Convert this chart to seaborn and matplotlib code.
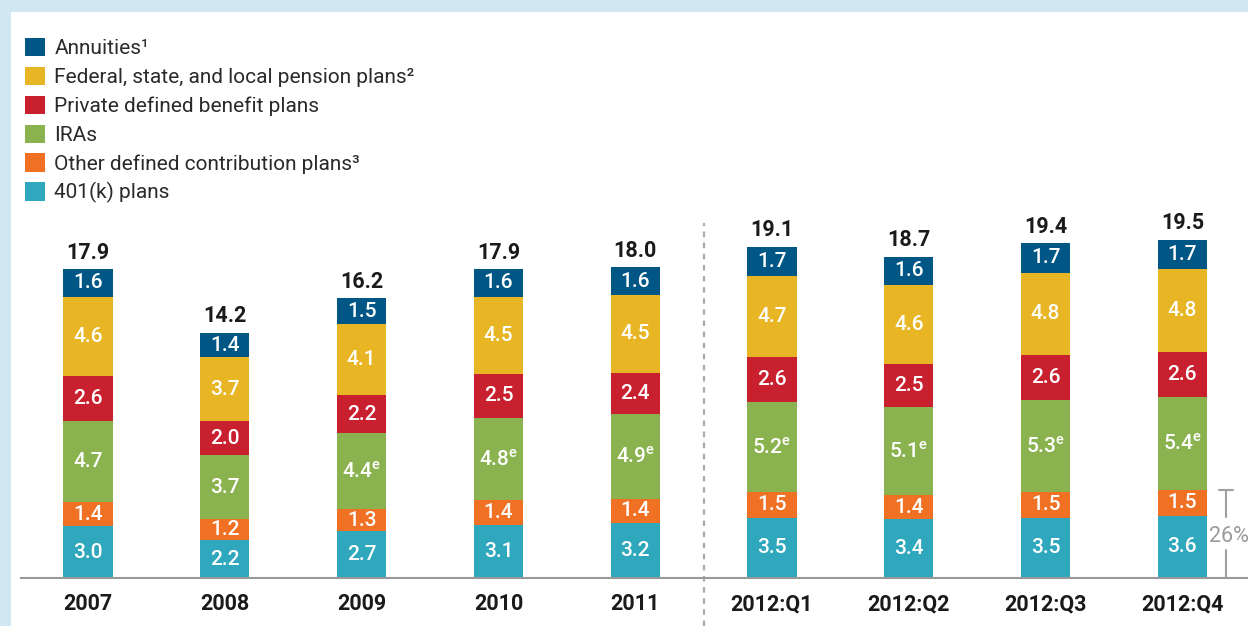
import numpy as np
import matplotlib.pyplot as plt
import seaborn as sns
from matplotlib import font_manager
from matplotlib.patches import Patch, Rectangle

# data (trillions of dollars)
periods = ['2007', '2008', '2009', '2010', '2011', '2012:Q1', '2012:Q2', '2012:Q3', '2012:Q4']
k401 = [3.0, 2.2, 2.7, 3.1, 3.2, 3.5, 3.4, 3.5, 3.6]
other_dc = [1.4, 1.2, 1.3, 1.4, 1.4, 1.5, 1.4, 1.5, 1.5]
iras = [4.7, 3.7, 4.4, 4.8, 4.9, 5.2, 5.1, 5.3, 5.4]
ira_estimated = [False, False, True, True, True, True, True, True, True]
private_db = [2.6, 2.0, 2.2, 2.5, 2.4, 2.6, 2.5, 2.6, 2.6]
government = [4.6, 3.7, 4.1, 4.5, 4.5, 4.7, 4.6, 4.8, 4.8]
annuities = [1.6, 1.4, 1.5, 1.6, 1.6, 1.7, 1.6, 1.7, 1.7]
totals = [17.9, 14.2, 16.2, 17.9, 18.0, 19.1, 18.7, 19.4, 19.5]

series_names = ['401(k) plans', 'Other defined contribution plans\u00b3', 'IRAs',
                'Private defined benefit plans', 'Federal, state, and local pension plans\u00b2',
                'Annuities\u00b9']
series_values = [k401, other_dc, iras, private_db, government, annuities]
colors = ['#2fa8bd', '#f07124', '#8ab24f', '#c9202f', '#e8b524', '#005685']

# font: a narrow face if there is one
names = {f.name for f in font_manager.fontManager.ttflist}
main_font = 'Liberation Sans Narrow' if 'Liberation Sans Narrow' in names else 'Roboto'

sns.set_theme(style='white')
plt.rcParams['font.family'] = [main_font, 'DejaVu Sans']
plt.rcParams['mathtext.fontset'] = 'custom'
plt.rcParams['mathtext.rm'] = main_font + ':medium'

W, H = 1248, 626
fig = plt.figure(figsize=(W / 100, H / 100), dpi=100, facecolor='#d1e7f1')
fig.patches.append(Rectangle((11 / W, 0), 1, (H - 12) / H, transform=fig.transFigure,
                             facecolor='white', edgecolor='none', zorder=-5))
ax = fig.add_axes([21 / W, 48 / H, 1 - 21 / W, (578 - 222) / H])
ax.set_facecolor('none')

bottom = np.zeros(len(periods))
for name, vals, c in zip(series_names, series_values, colors):
    sns.barplot(x=periods, y=vals, bottom=bottom, color=c, width=0.36, saturation=1,
                linewidth=0, ax=ax)
    for i, v in enumerate(vals):
        label = f'{v:.1f}'
        if vals is iras and ira_estimated[i]:
            label += r'$^{\mathrm{e}}$'
        ax.text(i, bottom[i] + v / 2, label, ha='center', va='center', color='white',
                fontsize=15, fontweight='medium')
    bottom = bottom + np.array(vals)

for i, t in enumerate(totals):
    ax.annotate(f'{t:.1f}', (i, bottom[i]), xytext=(0, 4), textcoords='offset points',
                ha='center', va='bottom', fontsize=15.5, fontweight='bold', color='#1a1a1a')

# divider between annual and quarterly data
ax.plot([4.5, 4.5], [-2.8, 20.6], clip_on=False, color='#aaaaaa', lw=1.6, ls=(0, (2.5, 2.5)))

# bracket showing the 401(k) + other DC share of the last bar
dc_top = k401[-1] + other_dc[-1]
share = dc_top / totals[-1] * 100
bx = 8.32
ax.plot([bx, bx], [0, 1.6], color='#a0a0a0', lw=1.5, clip_on=False)
ax.plot([bx, bx], [3.55, dc_top], color='#a0a0a0', lw=1.5, clip_on=False)
ax.plot([bx - 0.05, bx + 0.05], [dc_top, dc_top], color='#a0a0a0', lw=1.5, clip_on=False)
ax.text(bx + 0.02, 2.4, f'{share:.0f}%', ha='center', va='center', color='#9a9a9a',
        fontsize=15.5, clip_on=False)

ax.set_xlim(-0.49, 8.48)
ax.set_ylim(0, 20.63)
ax.set_yticks([])
ax.set_xlabel('')
ax.set_ylabel('')
for s in ['top', 'left', 'right']:
    ax.spines[s].set_visible(False)
ax.spines['bottom'].set_color('#999999')
ax.spines['bottom'].set_linewidth(1.5)
ax.tick_params(axis='x', length=0, pad=11, labelsize=15.5, labelcolor='#1a1a1a')
for lab in ax.get_xticklabels():
    lab.set_fontweight('bold')

handles = [Patch(facecolor=c, edgecolor='none') for c in colors][::-1]
fig.legend(handles, series_names[::-1], loc='upper left', bbox_to_anchor=(25 / W, 1 - 38 / H),
           frameon=False, fontsize=15, handlelength=0.96, handleheight=0.96,
           handletextpad=0.45, labelspacing=0.415, borderpad=0, borderaxespad=0,
           labelcolor='#2a2a2a')

fig.savefig('out.png', dpi=100, facecolor=fig.get_facecolor())
